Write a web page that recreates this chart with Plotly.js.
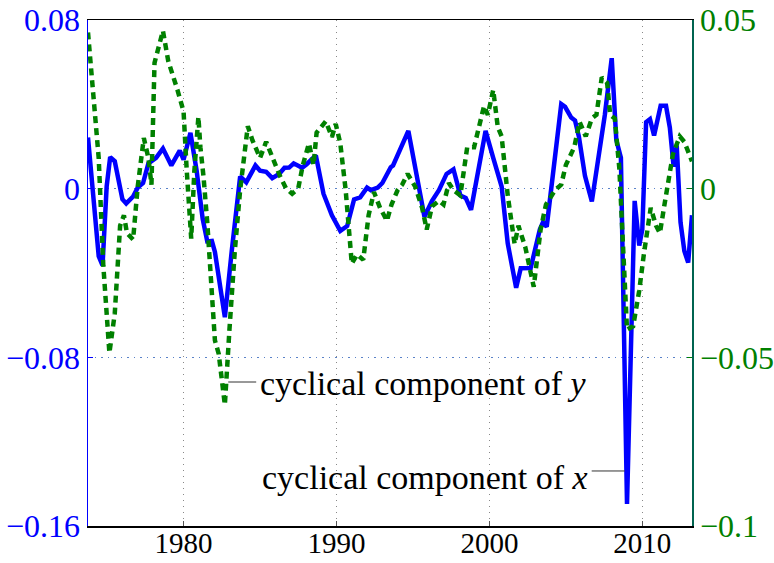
<!DOCTYPE html>
<html>
<head>
<meta charset="utf-8">
<script src="https://cdn.plot.ly/plotly-3.0.1.min.js"></script>
<style>html,body{margin:0;padding:0;background:#fff;}#chart{width:774px;height:563px;}</style>
</head>
<body>
<div id="chart"></div>
<script>
// Cyclical component of x (left axis), vertices
var datesX = [1973.75,1974.45,1974.7,1974.97,1975.2,1975.5,1976.0,1976.25,1976.7,1977.0,1977.35,1977.7,1978.2,1978.65,1979.2,1979.75,1980.0,1980.45,1980.85,1981.25,1981.55,1981.85,1982.05,1982.7,1983.15,1983.7,1984.1,1984.7,1985.0,1985.4,1985.8,1986.25,1986.6,1986.9,1987.2,1987.55,1987.75,1988.05,1988.65,1989.15,1989.7,1990.25,1990.7,1991.15,1991.55,1992.0,1992.25,1992.7,1993.0,1993.55,1993.7,1994.7,1995.3,1995.75,1996.25,1996.7,1997.2,1997.55,1997.65,1998.1,1998.45,1998.8,1999.75,2000.25,2000.8,2001.2,2001.75,2002.05,2002.7,2003.3,2003.5,2003.75,2004.7,2004.95,2005.35,2005.6,2005.85,2006.25,2006.7,2007.55,2008.0,2008.3,2008.6,2009.0,2009.5,2009.8,2010.0,2010.25,2010.5,2010.77,2011.2,2011.55,2011.8,2012.05,2012.25,2012.5,2012.75,2013.0,2013.25];
var cycX = [0.0243,-0.032,-0.0364,0.001,0.015,0.013,-0.005,-0.007,-0.0037,0.0005,0.0027,0.012,0.0146,0.019,0.011,0.018,0.0138,0.0265,0.0087,-0.0143,-0.025,-0.0248,-0.030,-0.061,-0.0296,0.0058,0.003,0.011,0.0085,0.008,0.005,0.007,0.0099,0.010,0.012,0.011,0.0099,0.0116,0.0158,-0.0024,-0.0126,-0.020,-0.0177,-0.0051,-0.0041,0.0005,-0.0007,0.0005,0.0027,0.0102,0.011,0.0274,0.0044,-0.0133,-0.0058,-0.0007,0.007,0.0092,0.0092,-0.0032,-0.0044,-0.010,0.0274,0.0146,0.001,-0.026,-0.047,-0.0377,-0.0376,-0.0194,-0.016,-0.018,0.0401,0.0388,0.0337,0.0323,0.0248,0.0061,-0.0061,0.035,0.0619,0.0231,0.0146,-0.1495,-0.0058,-0.027,-0.0194,0.0316,0.033,0.0252,0.0393,0.0393,0.029,0.0104,0.0206,-0.016,-0.0296,-0.035,-0.0126];

// Cyclical component of y (right axis), vertices
var datesY = [1973.75,1974.1,1974.45,1974.75,1974.97,1975.15,1975.5,1975.85,1976.1,1976.3,1976.7,1977.0,1977.4,1977.7,1977.9,1978.1,1978.65,1979.0,1979.6,1980.0,1980.2,1980.5,1980.7,1980.97,1981.1,1981.3,1981.55,1982.05,1982.3,1982.7,1983.0,1983.35,1983.7,1984.2,1984.5,1985.0,1985.4,1985.8,1986.3,1986.7,1987.1,1987.5,1987.8,1988.2,1988.5,1988.7,1989.3,1989.7,1989.95,1990.25,1990.6,1991.0,1991.35,1991.75,1992.1,1992.45,1992.85,1993.3,1993.6,1994.0,1994.3,1994.65,1995.15,1995.6,1995.9,1996.25,1996.7,1997.0,1997.35,1997.65,1998.1,1998.55,1999.0,1999.65,1999.9,2000.25,2000.55,2000.8,2001.2,2001.65,2001.9,2002.35,2002.9,2003.35,2003.7,2004.3,2004.7,2005.0,2005.55,2005.9,2006.3,2006.7,2007.0,2007.35,2007.7,2007.9,2008.2,2008.5,2008.8,2009.0,2009.4,2009.8,2010.1,2010.55,2010.9,2011.15,2011.45,2011.8,2012.0,2012.45,2012.75,2013.25];
var cycY = [0.0463,0.026,0.0091,-0.0227,-0.0397,-0.0487,-0.037,-0.011,-0.0079,-0.0132,-0.0151,0.0006,0.015,0.0091,0.0012,0.0373,0.0468,0.0378,0.0293,0.0229,0.0059,-0.0148,0.0049,0.0213,0.0123,0.0038,-0.010,-0.045,-0.049,-0.0641,-0.0418,-0.0185,-0.0004,0.0185,0.0144,0.0091,0.0139,0.0091,0.0038,0.0001,-0.0015,0.0001,0.007,0.0134,0.007,0.0166,0.020,0.0153,0.0192,0.0134,-0.0004,-0.0222,-0.0195,-0.0211,-0.0079,-0.001,-0.0057,-0.0095,-0.0047,-0.0004,0.0012,0.0044,0.0006,-0.0057,-0.0121,-0.0052,-0.0036,-0.0047,0.0017,-0.0004,-0.002,0.0123,0.0123,0.0245,0.0219,0.0293,0.0182,0.0155,-0.002,-0.0164,-0.011,-0.0174,-0.0291,-0.0121,-0.0047,-0.0004,0.0012,0.007,0.0123,0.0198,0.0155,0.0208,0.0219,0.033,0.0314,0.0219,0.0208,0.0059,-0.0206,-0.0418,-0.0408,-0.0302,-0.0195,-0.0057,-0.011,-0.0132,-0.0047,0.0059,0.0102,0.0155,0.0139,0.0081];

var xTicks = [1980, 1990, 2000, 2010];
var leftTicks = [-0.16, -0.08, 0, 0.08];
var leftTickText = ['\u22120.16', '\u22120.08', '0', '0.08'];
var rightTicks = [-0.1, -0.05, 0, 0.05];
var rightTickText = ['\u22120.1', '\u22120.05', '0', '0.05'];

var serif = '"Liberation Serif", "Times New Roman", serif';
var green = 'rgb(0,128,0)';

var traces = [
  {x: datesY, y: cycY, yaxis: 'y2', type: 'scatter', mode: 'lines',
   line: {color: green, width: 4.5, dash: '7px,5px'}, hoverinfo: 'skip'},
  {x: datesX, y: cycX, yaxis: 'y', type: 'scatter', mode: 'lines',
   line: {color: 'rgb(0,0,255)', width: 4.5}, hoverinfo: 'skip'}
];

var layout = {
  width: 774, height: 563,
  margin: {l: 88, r: 82, t: 20, b: 37},
  paper_bgcolor: '#fff', plot_bgcolor: '#fff',
  showlegend: false,
  xaxis: {
    range: [1973.75, 2013.25], tickvals: xTicks, ticktext: xTicks.map(String),
    ticks: 'inside', ticklen: 5, tickcolor: '#555', ticklabelstandoff: -9,
    showline: true, linecolor: '#000', linewidth: 1.5, mirror: true,
    showgrid: true, gridcolor: '#888', griddash: '1px,5px', gridwidth: 1,
    zeroline: false,
    tickfont: {family: serif, size: 29, color: '#000'}
  },
  yaxis: {
    range: [-0.16, 0.08], tickvals: leftTicks, ticktext: leftTickText,
    ticks: 'inside', ticklen: 5, tickcolor: 'rgb(0,0,255)',
    showline: true, linecolor: 'rgb(0,0,255)', linewidth: 1.5,
    showgrid: true, gridcolor: 'rgb(90,130,200)', griddash: '1.5px,5px', gridwidth: 1.2,
    zeroline: false,
    tickfont: {family: serif, size: 32, color: 'rgb(0,0,255)'}
  },
  yaxis2: {
    range: [-0.1, 0.05], tickvals: rightTicks, ticktext: rightTickText,
    overlaying: 'y', side: 'right',
    ticks: 'inside', ticklen: 5, tickcolor: green,
    showline: true, linecolor: 'rgb(0,100,80)', linewidth: 1.5,
    showgrid: false, zeroline: false,
    tickfont: {family: serif, size: 32, color: green}
  },
  shapes: [
    {type: 'line', xref: 'x', yref: 'y', x0: 1982.92, x1: 1984.75, y0: -0.0917, y1: -0.0917,
     line: {color: '#333', width: 1}},
    {type: 'line', xref: 'x', yref: 'y', x0: 2006.69, x1: 2008.85, y0: -0.1339, y1: -0.1339,
     line: {color: '#333', width: 1}}
  ],
  annotations: [
    {xref: 'x', yref: 'y', x: 1984.85, y: -0.0922, xanchor: 'left', yanchor: 'middle',
     text: 'cyclical component of <i>y</i>', showarrow: false,
     font: {family: serif, size: 34, color: '#000'}},
    {xref: 'x', yref: 'y', x: 2006.6, y: -0.1368, xanchor: 'right', yanchor: 'middle',
     text: 'cyclical component of <i>x</i>', showarrow: false,
     font: {family: serif, size: 34, color: '#000'}}
  ]
};

Plotly.newPlot('chart', traces, layout, {displayModeBar: false, staticPlot: true});
</script>
</body>
</html>
